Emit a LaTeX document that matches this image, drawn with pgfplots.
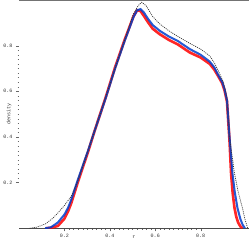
\documentclass[border=0pt]{standalone}
\usepackage{fontspec}
\setmainfont{Liberation Mono}
\usepackage{pgfplots}
\pgfplotsset{compat=1.18}
\begin{document}
\begin{tikzpicture}
\begin{axis}[
  scale only axis,
  width=227bp, height=225.5bp,
  xmin=0, xmax=1.012, ymin=0, ymax=1.0,
  axis x line*=bottom, axis y line*=left,
  y axis line style={draw=none},
  x axis line style={-, black!70},
  xtick={0.2,0.4,0.6,0.8}, ytick={0.2,0.4,0.6,0.8},
  minor tick num=9,
  tick align=outside,
  major tick length=3bp, minor tick length=1.5bp,
  tick style={black!60},
  /pgf/number format/assume math mode=true,
  /pgf/number format/fixed, /pgf/number format/precision=1,
  tick label style={font=\fontsize{5}{6}\selectfont, text=black!80},
  xticklabel style={yshift=1bp},
  xlabel={r}, ylabel={density},
  label style={font=\fontsize{5}{6}\selectfont, text=black!80},
  xlabel style={at={(rel axis cs:0.5,0)}, yshift=-4bp},
  ylabel style={at={(rel axis cs:0,0.5)}, yshift=4bp},
  clip=true,
]
\draw[black!55, line width=0.8bp] (rel axis cs:0,1) -- (rel axis cs:1,1);
\addplot[red, line width=2.6bp, opacity=0.85] coordinates {
(0.118,0.000) (0.14,0.002) (0.171,0.010) (0.20,0.042) (0.216,0.074) (0.23,0.11)
(0.26,0.205) (0.304,0.335) (0.334,0.43) (0.38,0.568) (0.423,0.705) (0.465,0.825)
(0.504,0.928) (0.52,0.955) (0.535,0.952) (0.55,0.93) (0.57,0.9) (0.589,0.874)
(0.62,0.85) (0.66,0.825) (0.70,0.805) (0.752,0.77) (0.80,0.748) (0.84,0.72)
(0.86,0.695) (0.878,0.665) (0.895,0.635) (0.905,0.605) (0.916,0.555) (0.927,0.385)
(0.934,0.24) (0.941,0.155) (0.949,0.089) (0.957,0.05) (0.965,0.025) (0.975,0.008) (0.984,0.0)};
\addplot[blue!70!cyan!80!black, line width=2.0bp, opacity=0.85] coordinates {
(0.115,0.000) (0.14,0.004) (0.171,0.025) (0.20,0.06) (0.216,0.09) (0.23,0.125)
(0.26,0.215) (0.304,0.34) (0.334,0.43) (0.38,0.565) (0.423,0.70) (0.465,0.82)
(0.504,0.925) (0.52,0.955) (0.535,0.96) (0.55,0.945) (0.57,0.915) (0.589,0.89)
(0.62,0.865) (0.66,0.84) (0.70,0.82) (0.752,0.785) (0.80,0.76) (0.84,0.73)
(0.86,0.705) (0.878,0.67) (0.895,0.64) (0.905,0.61) (0.916,0.56) (0.927,0.40)
(0.94,0.24) (0.95,0.16) (0.962,0.089) (0.975,0.04) (0.985,0.015) (0.995,0.0)};
\addplot[black!80, line width=0.7bp, dash pattern=on 1bp off 1bp] coordinates {
(0.047,0.0) (0.08,0.005) (0.118,0.02) (0.15,0.045) (0.171,0.067) (0.20,0.10)
(0.23,0.14) (0.26,0.21) (0.304,0.34) (0.334,0.43) (0.423,0.70) (0.504,0.94)
(0.525,0.975) (0.54,0.99) (0.56,0.975) (0.589,0.927) (0.62,0.895) (0.66,0.865)
(0.70,0.84) (0.752,0.81) (0.80,0.785) (0.84,0.755) (0.86,0.725) (0.88,0.685)
(0.90,0.64) (0.915,0.575) (0.927,0.40) (0.949,0.24) (0.965,0.16) (0.984,0.089)
(0.995,0.04) (1.007,0.0)};
\end{axis}
\end{tikzpicture}
\end{document}
